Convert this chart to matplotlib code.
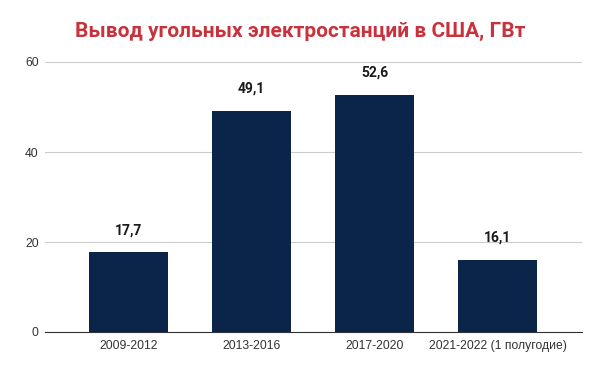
import matplotlib.pyplot as plt

# Data
categories = ['2009-2012', '2013-2016', '2017-2020', '2021-2022 (1 полугодие)']
values = [17.7, 49.1, 52.6, 16.1]
value_labels = ['17,7', '49,1', '52,6', '16,1']
yticks = [0, 20, 40, 60]

plt.rcParams['font.family'] = ['Roboto', 'DejaVu Sans']

fig = plt.figure(figsize=(6, 3.71), dpi=100)
ax = fig.add_axes([45 / 600, 1 - 332 / 371, 537 / 600, 270 / 371])

x = list(range(len(categories)))
ax.bar(x, values, width=0.642, color='#0b2449', zorder=3)

for xi, v, lab in zip(x, values, value_labels):
    ax.annotate(lab, (xi, v), xytext=(0, 11), textcoords='offset points',
                ha='center', va='bottom', fontsize=10, fontweight='bold',
                color='#1a1a1a')

ax.set_xlim(-0.679, 3.687)
ax.set_ylim(0, 60)
ax.set_yticks(yticks)
ax.set_yticklabels([str(t) for t in yticks])
ax.set_xticks(x)
ax.set_xticklabels(categories)
ax.tick_params(axis='both', length=0, labelsize=8.7, colors='#333333')
for lbl in ax.get_xticklabels() + ax.get_yticklabels():
    lbl.set_family(['Liberation Sans', 'DejaVu Sans'])
ax.tick_params(axis='y', pad=4.5)
ax.tick_params(axis='x', pad=6)
ax.grid(axis='y', color='#cccccc', linewidth=0.8, zorder=0)
for s in ['top', 'right', 'left']:
    ax.spines[s].set_visible(False)
ax.spines['bottom'].set_color('#333333')
ax.spines['bottom'].set_zorder(4)

fig.text(0.5, 1 - 31 / 371, 'Вывод угольных электростанций в США, ГВт',
         ha='center', va='center', fontsize=15, fontweight='bold',
         color='#c8323c')

fig.savefig('out.png', dpi=100)
